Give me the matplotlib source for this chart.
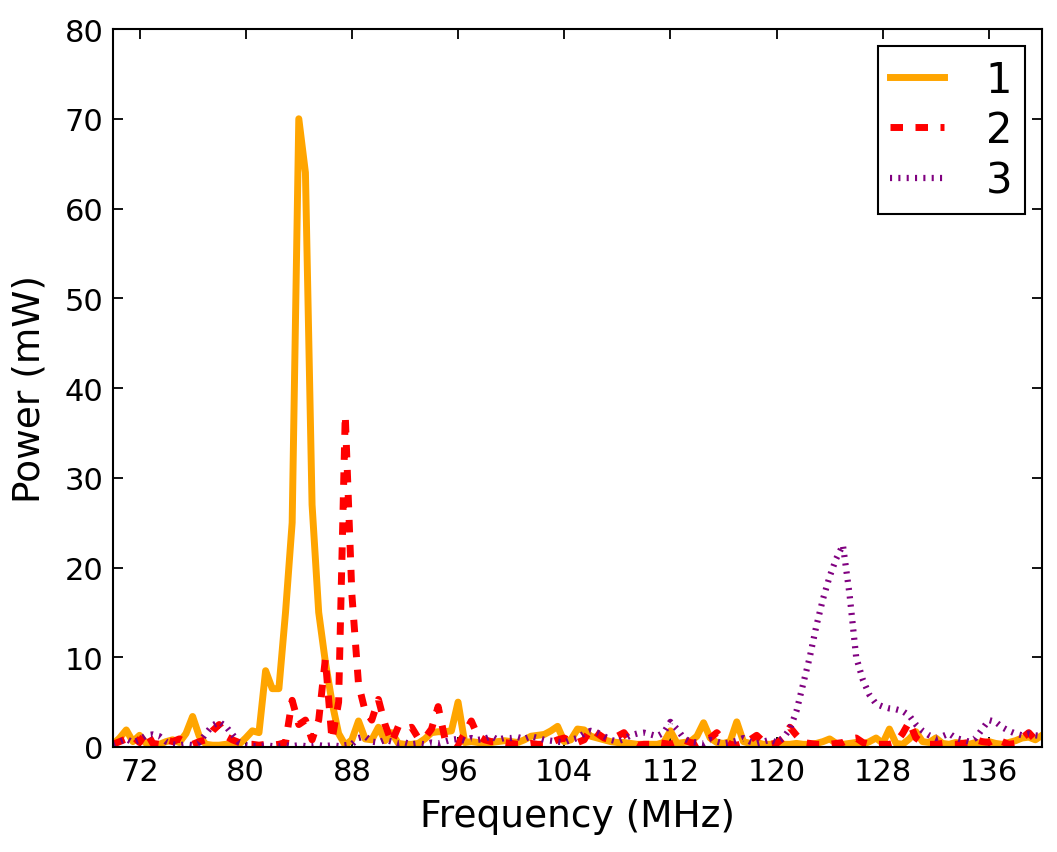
import numpy as np
import matplotlib
matplotlib.use("Agg")
import matplotlib.pyplot as plt

# frequency grid, 0.5 MHz steps
freq = np.arange(70, 140.01, 0.5)

# power of the three sources (mW)
p1 = [0.3, 1.0, 1.9, 0.6, 1.3, 0.4, 0.2, 0.3, 0.6, 0.8,
      0.5, 1.5, 3.4, 1.2, 0.3, 0.2, 0.2, 0.3, 0.2, 0.3,
      1.0, 1.8, 1.6, 8.5, 6.5, 6.5, 15, 25, 70, 64,
      27, 15, 9.5, 5.0, 1.5, 0.2, 0.8, 2.9, 0.9, 0.8,
      2.2, 0.7, 1.6, 0.4, 0.3, 0.3, 0.4, 0.9, 1.6, 1.7,
      1.7, 1.8, 5.0, 0.5, 0.6, 0.5, 0.4, 0.5, 0.6, 0.7,
      0.6, 0.5, 0.8, 1.2, 1.3, 1.4, 1.8, 2.3, 0.6, 0.8,
      2.0, 1.9, 1.2, 1.0, 0.8, 0.6, 0.5, 0.5, 0.4, 0.3,
      0.3, 0.3, 0.3, 0.5, 1.8, 0.4, 0.5, 0.6, 1.2, 2.7,
      1.0, 0.5, 0.4, 0.6, 2.8, 0.6, 0.4, 0.5, 0.3, 0.3,
      0.4, 0.3, 0.3, 0.4, 0.3, 0.3, 0.4, 0.6, 0.9, 0.4,
      0.3, 0.4, 0.5, 0.3, 0.6, 1.0, 0.4, 2.0, 0.4, 0.3,
      0.9, 1.7, 0.6, 0.5, 1.0, 0.4, 0.3, 0.5, 0.4, 0.3,
      0.5, 0.4, 0.6, 0.4, 0.3, 0.5, 0.7, 1.0, 1.1, 0.8,
      1.3]

p2 = [0.3, 0.6, 0.9, 1.2, 0.5, 1.7, 0.4, 0.3, 0.8, 0.6,
      0.9, 0.5, 0.3, 0.6, 0.8, 1.8, 2.5, 1.2, 0.8, 0.5,
      0.3, 0.3, 0.2, 0.3, 0.2, 0.3, 0.5, 5.2, 2.5, 3.0,
      0.8, 3.0, 9.8, 0.8, 5.0, 37, 17, 7.0, 4.0, 3.0,
      5.3, 2.5, 0.5, 2.3, 2.0, 2.2, 1.0, 1.0, 2.0, 4.5,
      1.0, 0.8, 0.3, 1.5, 2.9, 1.2, 0.8, 0.6, 0.6, 0.5,
      0.4, 0.3, 0.3, 0.4, 0.3, 0.3, 0.5, 0.8, 1.0, 0.6,
      0.5, 0.8, 2.0, 1.5, 1.0, 0.8, 1.2, 1.6, 0.6, 0.2,
      0.3, 0.3, 0.5, 0.4, 0.3, 0.6, 0.8, 0.5, 0.4, 0.8,
      1.0, 1.6, 0.8, 0.3, 0.2, 0.4, 0.8, 1.3, 0.6, 0.3,
      0.4, 1.0, 2.2, 1.3, 0.5, 0.4, 0.3, 0.3, 0.3, 0.4,
      0.5, 0.9, 1.0, 0.5, 0.3, 0.3, 0.3, 0.3, 0.5, 1.5,
      2.8, 1.0, 0.5, 0.3, 0.3, 0.4, 0.3, 0.3, 0.4, 0.5,
      0.8, 0.6, 0.5, 0.9, 0.6, 0.3, 0.4, 1.0, 1.6, 0.8,
      0.6]

p3 = [0.3, 0.6, 0.9, 0.5, 0.8, 1.3, 1.4, 1.2, 0.6, 0.3,
      0.2, 0.3, 0.2, 0.5, 1.5, 2.4, 2.8, 2.3, 1.4, 0.5,
      0.2, 0.1, 0.1, 0.2, 0.1, 0.1, 0.2, 0.1, 0.2, 0.1,
      0.1, 0.2, 0.1, 0.2, 0.1, 0.2, 0.3, 1.0, 1.2, 0.6,
      0.5, 0.8, 0.6, 0.4, 0.5, 0.3, 0.4, 0.3, 0.5, 0.4,
      0.6, 0.8, 0.9, 0.7, 1.0, 0.8, 0.9, 1.2, 0.8, 1.0,
      1.0, 1.1, 0.9, 1.2, 1.0, 0.8, 0.7, 0.6, 0.5, 0.8,
      1.0, 1.5, 1.8, 1.6, 1.2, 0.8, 0.6, 0.9, 1.3, 1.5,
      1.6, 1.4, 1.2, 1.6, 2.8, 2.0, 1.0, 0.6, 0.5, 0.4,
      0.8, 0.6, 0.4, 0.5, 0.7, 1.0, 0.6, 0.4, 0.6, 0.8,
      0.5, 1.0, 2.0, 4.0, 7.0, 10.0, 13.5, 16.5, 19.0, 21.0,
      22.5, 17.0, 10.0, 7.5, 5.8, 4.8, 4.5, 4.3, 4.2, 4.0,
      3.5, 2.5, 1.8, 1.3, 1.0, 1.2, 1.5, 1.0, 0.8, 0.6,
      1.0, 2.0, 3.0, 2.8, 2.2, 1.8, 1.5, 1.3, 1.5, 1.3,
      1.2]

labels = ["1", "2", "3"]
xticks = np.arange(72, 137, 8)
yticks = np.arange(0, 81, 10)

plt.rcParams['lines.scale_dashes'] = False

fig = plt.figure(figsize=(10.57, 8.53), dpi=100)
ax = fig.add_axes([0.1069, 0.1231, 0.8789, 0.8417])

ax.plot(freq, p1, color='orange', lw=5, label=labels[0])
ax.plot(freq, p2, color='red', lw=5, dashes=(9, 9), label=labels[1])
ax.plot(freq, p3, color='purple', lw=4.5, dashes=(1.5, 4.5), label=labels[2])

ax.set_xlim(70, 140)
ax.set_ylim(0, 80)
ax.set_xticks(xticks)
ax.set_yticks(yticks)
ax.tick_params(direction='in', top=True, right=True, length=7, width=1.3,
               labelsize=22, pad=7)
for s in ax.spines.values():
    s.set_linewidth(1.5)

ax.set_xlabel("Frequency (MHz)", fontsize=27, labelpad=9)
ax.set_ylabel("Power (mW)", fontsize=27, labelpad=12)

leg = ax.legend(loc='upper right', bbox_to_anchor=(0.9817, 0.9763),
                borderaxespad=0, fontsize=30, handlelength=1.3,
                handletextpad=1.0, labelspacing=0.2, borderpad=0.3,
                fancybox=False, framealpha=1)
leg.get_frame().set_edgecolor('black')
leg.get_frame().set_linewidth(1.5)

fig.savefig("out.png", dpi=100)
